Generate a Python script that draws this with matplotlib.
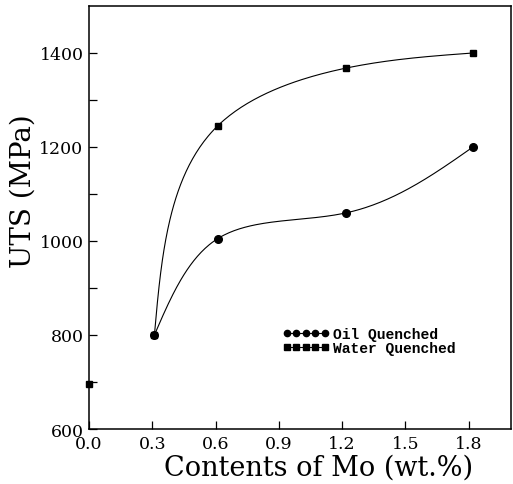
import numpy as np
import matplotlib.pyplot as plt

# data
mo_water = [0.31, 0.61, 1.22, 1.82]
uts_water = [800, 1245, 1368, 1400]
mo_oil = [0.31, 0.61, 1.22, 1.82]
uts_oil = [800, 1005, 1060, 1200]
mo_base = [0.0]
uts_base = [695]

x_ticks = [0.0, 0.3, 0.6, 0.9, 1.2, 1.5, 1.8]
y_ticks = [600, 800, 1000, 1200, 1400]


def smooth(xs, ys, sx, sy, n=200):
    # parametric natural cubic spline, chord length in scaled units
    xs = np.asarray(xs, float)
    ys = np.asarray(ys, float)
    px, py = xs / sx, ys / sy
    t = np.concatenate([[0], np.cumsum(np.hypot(np.diff(px), np.diff(py)))])
    tt = np.linspace(0, t[-1], n)

    def spline(v):
        k = len(t)
        h = np.diff(t)
        A = np.zeros((k, k))
        b = np.zeros(k)
        A[0, 0] = A[-1, -1] = 1
        for i in range(1, k - 1):
            A[i, i - 1] = h[i - 1]
            A[i, i] = 2 * (h[i - 1] + h[i])
            A[i, i + 1] = h[i]
            b[i] = 6 * ((v[i + 1] - v[i]) / h[i] - (v[i] - v[i - 1]) / h[i - 1])
        m = np.linalg.solve(A, b)
        out = np.empty_like(tt)
        for j, x in enumerate(tt):
            i = min(np.searchsorted(t, x, side='right') - 1, k - 2)
            a = (t[i + 1] - x) / h[i]
            c = (x - t[i]) / h[i]
            out[j] = (a * v[i] + c * v[i + 1]
                      + ((a ** 3 - a) * m[i] + (c ** 3 - c) * m[i + 1]) * h[i] ** 2 / 6)
        return out

    return spline(px) * sx, spline(py) * sy


fig = plt.figure(figsize=(5.13, 4.85), dpi=100)
ax = fig.add_axes([0.1735, 0.1134, 0.8225, 0.8722])

sx, sy = 2.0, 900.0
xw, yw = smooth(mo_water, uts_water, sx, sy)
xo, yo = smooth(mo_oil, uts_oil, sx, sy)
ax.plot(xw, yw, color='k', lw=0.8)
ax.plot(xo, yo, color='k', lw=0.8)
ax.plot(mo_water, uts_water, 's', color='k', ms=5, ls='none')
ax.plot(mo_oil, uts_oil, 'o', color='k', ms=5.5, ls='none')
ax.plot(mo_base, uts_base, 's', color='k', ms=5, ls='none', clip_on=False)

# legend handles
h1, = ax.plot([], [], '-o', color='k', ms=4.5, lw=0.8)
h2, = ax.plot([], [], '-s', color='k', ms=3.8, lw=0.8)
ax.legend([h1, h2], ['Oil Quenched', 'Water Quenched'], numpoints=5,
          handlelength=3.2, handletextpad=0.3, labelspacing=0.0,
          frameon=False, loc='upper left', bbox_to_anchor=(0.525, 0.35),
          bbox_transform=fig.transFigure,
          prop={'family': 'Liberation Mono', 'weight': 'bold', 'size': 10.5})

ax.set_xlim(0, 2.0)
ax.set_ylim(600, 1500)
ax.set_xticks(x_ticks)
ax.set_yticks(y_ticks)
ax.set_yticks(np.arange(700, 1500, 200), minor=True)
ax.set_xticklabels([f'{v:.1f}' for v in x_ticks])
ax.tick_params(direction='in', length=6, width=0.9, labelsize=12.5, pad=4)
ax.tick_params(axis='y', which='minor', direction='in', length=6, width=0.9)
for lab in ax.get_xticklabels() + ax.get_yticklabels():
    lab.set_family('DejaVu Serif')
for s in ax.spines.values():
    s.set_linewidth(1.1)

ax.set_xlabel('Contents of Mo (wt.%)', family='DejaVu Serif', fontsize=19.5)
ax.set_ylabel('UTS (MPa)', family='DejaVu Serif', fontsize=20)
ax.xaxis.set_label_coords(0.545, -0.058)
ax.yaxis.set_label_coords(-0.125, 0.565)

fig.savefig('out.png', dpi=100)
